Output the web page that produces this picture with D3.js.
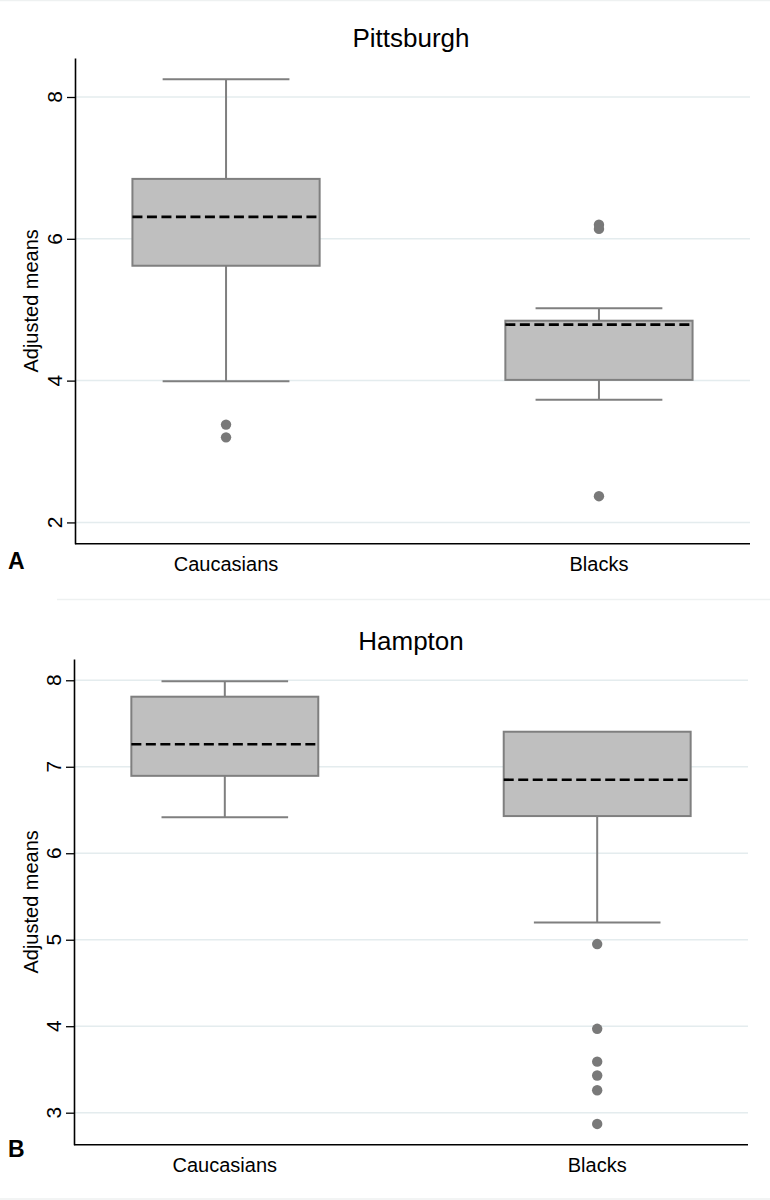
<!DOCTYPE html>
<html>
<head>
<meta charset="utf-8">
<script src="https://cdn.jsdelivr.net/npm/d3@7"></script>
<style>
  html, body { margin: 0; padding: 0; background: #fff; }
  svg { display: block; }
  text { font-family: "Liberation Sans", Arial, Helvetica, sans-serif; fill: #000; }
</style>
</head>
<body>
<svg id="chart" width="770" height="1200"></svg>
<script>
// ---------- data ----------
const categories = ["Caucasians", "Blacks"];
const panelTitles = ["Pittsburgh", "Hampton"];
const panelLetters = ["A", "B"];
const yLabel = "Adjusted means";

// Pittsburgh (panel A)
const pitTicks = [2, 4, 6, 8];
const pitWhiskerLow  = [3.99, 3.73];
const pitQ1          = [5.62, 4.01];
const pitMedian      = [6.31, 4.79];
const pitQ3          = [6.845, 4.845];
const pitWhiskerHigh = [8.25, 5.02];
const pitOutliers    = [[3.38, 3.20], [6.20, 6.14, 2.37]];

// Hampton (panel B)
const hamTicks = [3, 4, 5, 6, 7, 8];
const hamWhiskerLow  = [6.415, 5.20];
const hamQ1          = [6.895, 6.43];
const hamMedian      = [7.26, 6.85];
const hamQ3          = [7.81, 7.405];
const hamWhiskerHigh = [7.99, 7.405];
const hamOutliers    = [[], [4.95, 3.97, 3.59, 3.43, 3.26, 2.87]];

// ---------- layout ----------
const panels = [
  { title: panelTitles[0], letter: panelLetters[0], ticks: pitTicks,
    lo: pitWhiskerLow, q1: pitQ1, med: pitMedian, q3: pitQ3, hi: pitWhiskerHigh, out: pitOutliers,
    yDomain: [1.70, 8.55], top: 58, bottom: 543.7, left: 75, right: 750,
    titleY: 47, letterY: 569 },
  { title: panelTitles[1], letter: panelLetters[1], ticks: hamTicks,
    lo: hamWhiskerLow, q1: hamQ1, med: hamMedian, q3: hamQ3, hi: hamWhiskerHigh, out: hamOutliers,
    yDomain: [2.63, 8.246], top: 659, bottom: 1144.7, left: 74, right: 748,
    titleY: 650, letterY: 1157 }
];

const svg = d3.select("#chart");

// faint panel separators
svg.append("line").attr("x1", 0).attr("x2", 770).attr("y1", 0.5).attr("y2", 0.5)
  .attr("stroke", "#eef1f1").attr("stroke-width", 1.5);
svg.append("line").attr("x1", 57).attr("x2", 770).attr("y1", 599.5).attr("y2", 599.5)
  .attr("stroke", "#eef1f1").attr("stroke-width", 1.5);
svg.append("line").attr("x1", 0).attr("x2", 770).attr("y1", 1199).attr("y2", 1199)
  .attr("stroke", "#eef1f1").attr("stroke-width", 1.5);

const boxFill = "#bfbfbf";
const boxStroke = "#7f7f7f";
const dotFill = "#797979";
const gridColor = "#e4ecee";

panels.forEach(p => {
  const g = svg.append("g");

  const y = d3.scaleLinear().domain(p.yDomain).range([p.bottom, p.top]);
  const x = d3.scalePoint().domain(categories).range([p.left, p.right]).padding(0.405);
  const step = x.step();
  const boxW = step * 0.502;
  const capW = step * 0.34;

  // grid lines
  g.append("g").selectAll("line").data(p.ticks).join("line")
    .attr("x1", p.left).attr("x2", p.right)
    .attr("y1", d => y(d)).attr("y2", d => y(d))
    .attr("stroke", gridColor).attr("stroke-width", 1.5);

  // y axis (line + ticks from d3 axis; labels drawn below)
  const yAxis = g.append("g").attr("transform", `translate(${p.left},0)`)
    .call(d3.axisLeft(y).tickValues(p.ticks).tickSize(8).tickSizeOuter(0).tickFormat(""));
  yAxis.select(".domain").attr("stroke", "#000").attr("stroke-width", 1.6);
  yAxis.selectAll(".tick line").attr("stroke", "#000").attr("stroke-width", 1.3);

  g.append("g").selectAll("text").data(p.ticks).join("text")
    .attr("transform", d => `translate(${p.left - 13},${y(d)}) rotate(-90)`)
    .attr("text-anchor", "middle")
    .attr("font-size", 21)
    .text(d => d3.format("d")(d));

  // x axis
  const xAxis = g.append("g").attr("transform", `translate(0,${p.bottom})`)
    .call(d3.axisBottom(x).tickSize(0).tickSizeOuter(0).tickFormat(""));
  xAxis.select(".domain").attr("stroke", "#000").attr("stroke-width", 1.6)
    .attr("d", `M${p.left},0H${p.right}`);

  g.append("g").selectAll("text").data(categories).join("text")
    .attr("x", d => x(d)).attr("y", p.bottom + 27.5)
    .attr("text-anchor", "middle")
    .attr("font-size", 20)
    .text(d => d);

  const idx = d3.range(categories.length);

  // whiskers (vertical)
  g.append("g").selectAll("line.wl").data(idx).join("line")
    .attr("x1", i => x(categories[i])).attr("x2", i => x(categories[i]))
    .attr("y1", i => y(p.lo[i])).attr("y2", i => y(p.q1[i]))
    .attr("stroke", boxStroke).attr("stroke-width", 2);
  g.append("g").selectAll("line.wh").data(idx).join("line")
    .attr("x1", i => x(categories[i])).attr("x2", i => x(categories[i]))
    .attr("y1", i => y(p.hi[i])).attr("y2", i => y(p.q3[i]))
    .attr("stroke", boxStroke).attr("stroke-width", 2);
  // caps
  g.append("g").selectAll("line").data(idx.filter(i => p.lo[i] < p.q1[i])).join("line")
    .attr("x1", i => x(categories[i]) - capW / 2).attr("x2", i => x(categories[i]) + capW / 2)
    .attr("y1", i => y(p.lo[i])).attr("y2", i => y(p.lo[i]))
    .attr("stroke", boxStroke).attr("stroke-width", 2);
  g.append("g").selectAll("line").data(idx.filter(i => p.hi[i] > p.q3[i])).join("line")
    .attr("x1", i => x(categories[i]) - capW / 2).attr("x2", i => x(categories[i]) + capW / 2)
    .attr("y1", i => y(p.hi[i])).attr("y2", i => y(p.hi[i]))
    .attr("stroke", boxStroke).attr("stroke-width", 2);

  // boxes
  g.append("g").selectAll("rect").data(idx).join("rect")
    .attr("x", i => x(categories[i]) - boxW / 2)
    .attr("width", boxW)
    .attr("y", i => y(p.q3[i]))
    .attr("height", i => y(p.q1[i]) - y(p.q3[i]))
    .attr("fill", boxFill).attr("stroke", boxStroke).attr("stroke-width", 2);

  // medians (dashed)
  g.append("g").selectAll("line").data(idx).join("line")
    .attr("x1", i => x(categories[i]) - boxW / 2).attr("x2", i => x(categories[i]) + boxW / 2)
    .attr("y1", i => y(p.med[i])).attr("y2", i => y(p.med[i]))
    .attr("stroke", "#000").attr("stroke-width", 2.6)
    .attr("stroke-dasharray", "10,4.5");

  // outliers
  const outPts = [];
  p.out.forEach((arr, i) => arr.forEach(v => outPts.push({ c: categories[i], v })));
  g.append("g").selectAll("circle").data(outPts).join("circle")
    .attr("cx", d => x(d.c)).attr("cy", d => y(d.v)).attr("r", 5.2)
    .attr("fill", dotFill);

  // title
  g.append("text").attr("x", 411).attr("y", p.titleY)
    .attr("text-anchor", "middle").attr("font-size", 26).text(p.title);

  // y label
  g.append("text")
    .attr("transform", `translate(38,${(p.top + p.bottom) / 2}) rotate(-90)`)
    .attr("text-anchor", "middle").attr("font-size", 20).text(yLabel);

  // panel letter
  g.append("text").attr("x", 8).attr("y", p.letterY)
    .attr("font-size", 23).attr("font-weight", "bold").text(p.letter);
});
</script>
</body>
</html>
